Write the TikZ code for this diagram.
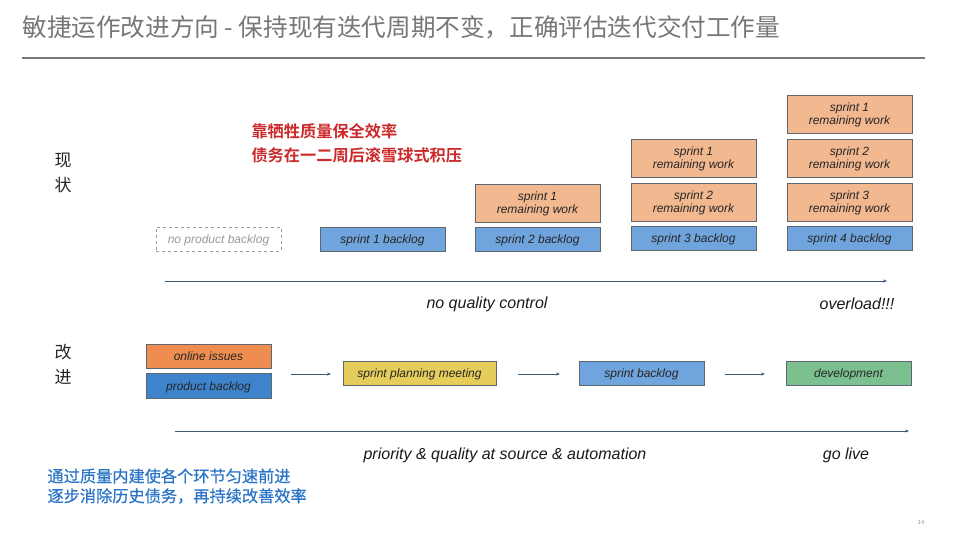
\documentclass[tikz,border=0pt]{standalone}
\usepackage{fontspec}
\setmainfont{Liberation Sans}
\newfontfamily\cjk{Noto Sans CJK SC}
\newfontfamily\cjkm[FakeBold=0.5]{Noto Sans CJK SC}
\newfontfamily\cjkb{Noto Sans CJK SC Bold}
\usetikzlibrary{arrows.meta}
\definecolor{remfill}{HTML}{F2B88F}
\definecolor{blfill}{HTML}{6FA4DC}
\definecolor{onfill}{HTML}{EE8D4F}
\definecolor{pbfill}{HTML}{3E84CC}
\definecolor{spfill}{HTML}{E6CD5B}
\definecolor{devfill}{HTML}{7DC08F}
\definecolor{boxline}{HTML}{5E6670}
\definecolor{arr}{HTML}{3E5874}
\definecolor{titlegray}{HTML}{777777}
\definecolor{redtxt}{HTML}{CC2A2A}
\definecolor{bluetxt}{HTML}{2A73C6}
\begin{document}
\begin{tikzpicture}[x=1pt,y=-1pt,
  bx/.style={draw=boxline,line width=0.6pt,minimum width=125pt,inner sep=0pt,font=\fontsize{12}{13}\selectfont\itshape,text=black!85,text height=10.5pt,text depth=1pt},
  bl/.style={bx,fill=blfill,minimum height=24pt},
  rem/.style={bx,fill=remfill,minimum height=38pt,align=center,text height=24pt,text depth=2.5pt},
  flow/.style={draw=arr,line width=0.7pt,-{Stealth[length=4pt,width=3pt]}},
  lbl/.style={font=\fontsize{16}{17}\selectfont\itshape,text=black!90},
  side/.style={font=\cjk\fontsize{17}{18}\selectfont,text=black!85}]
\useasboundingbox (0,0) rectangle (953,540);
\node[anchor=west,font=\cjk\fontsize{24.6}{26}\selectfont,text=titlegray] (title) at (19,27) {敏捷运作改进方向 - 保持现有迭代周期不变，正确评估迭代交付工作量};
\draw[titlegray,line width=1.6pt] (22,58) coordinate (tl) -- (925,58) coordinate (tr);
% side labels
\node[side] (x1) at (63,160) {现};
\node[side] (x2) at (63,185) {状};
\node[side] (g1) at (63,352) {改};
\node[side] (g2) at (63,377) {进};
% red text
\node[anchor=west,font=\cjkb\fontsize{16.2}{16}\selectfont,text=redtxt] (r1) at (248,131) {靠牺牲质量保全效率};
\node[anchor=west,font=\cjkb\fontsize{16.2}{16}\selectfont,text=redtxt] (r2) at (248,155) {债务在一二周后滚雪球式积压};
% top row
\node[bx,draw=black!40,dashed,text=black!40,minimum height=24pt] (nopb) at (218.5,239) {no product backlog};
\node[bl] (s1b) at (382.5,239) {sprint 1 backlog};
\node[bl] (s2b) at (537.5,239) {sprint 2 backlog};
\node[rem] (c2r1) at (537.5,203) {sprint 1\\remaining work};
\node[bl] (s3b) at (693.5,238) {sprint 3 backlog};
\node[rem] (c3r2) at (693.5,202) {sprint 2\\remaining work};
\node[rem] (c3r1) at (693.5,158) {sprint 1\\remaining work};
\node[bl] (s4b) at (849.5,238) {sprint 4 backlog};
\node[rem] (c4r3) at (849.5,202) {sprint 3\\remaining work};
\node[rem] (c4r2) at (849.5,158) {sprint 2\\remaining work};
\node[rem] (c4r1) at (849.5,114) {sprint 1\\remaining work};
\coordinate (a1s) at (165,281);
\coordinate (a1e) at (887,281);
\draw[flow] (a1s) -- (a1e);
\node[lbl] (nq) at (487,304) {no quality control};
\node[lbl] (ov) at (857,304) {overload!!!};
% bottom row
\node[bx,fill=onfill,minimum height=24pt] (oi) at (208.5,356) {online issues};
\node[bx,fill=pbfill,minimum height=25pt] (pb) at (208.5,385.5) {product backlog};
\node[bx,fill=spfill,minimum height=24pt,minimum width=153pt] (spm) at (419.5,373) {sprint planning meeting};
\node[bl] (sb) at (641.5,373) {sprint backlog};
\node[bx,fill=devfill,minimum height=24pt] (dev) at (848.5,373) {development};
\coordinate (f1s) at (291,374); \coordinate (f1e) at (331,374);
\draw[flow] (f1s) -- (f1e);
\coordinate (f2s) at (518,374); \coordinate (f2e) at (560,374);
\draw[flow] (f2s) -- (f2e);
\coordinate (f3s) at (725,374); \coordinate (f3e) at (765,374);
\draw[flow] (f3s) -- (f3e);
\coordinate (a2s) at (175,431);
\coordinate (a2e) at (909,431);
\draw[flow] (a2s) -- (a2e);
\node[lbl] (pq) at (505,455) {priority \& quality at source \& automation};
\node[lbl] (gl) at (846,455) {go live};
% blue text
\node[anchor=west,font=\cjkm\fontsize{16.2}{16}\selectfont,text=bluetxt] (b1) at (44,476) {通过质量内建使各个环节匀速前进};
\node[anchor=west,font=\cjkm\fontsize{16.2}{16}\selectfont,text=bluetxt] (b2) at (44,496) {逐步消除历史债务，再持续改善效率};
\node[font=\fontsize{6}{6}\selectfont,text=black!40] (pg) at (921,522) {14};
\end{tikzpicture}
\end{document}
